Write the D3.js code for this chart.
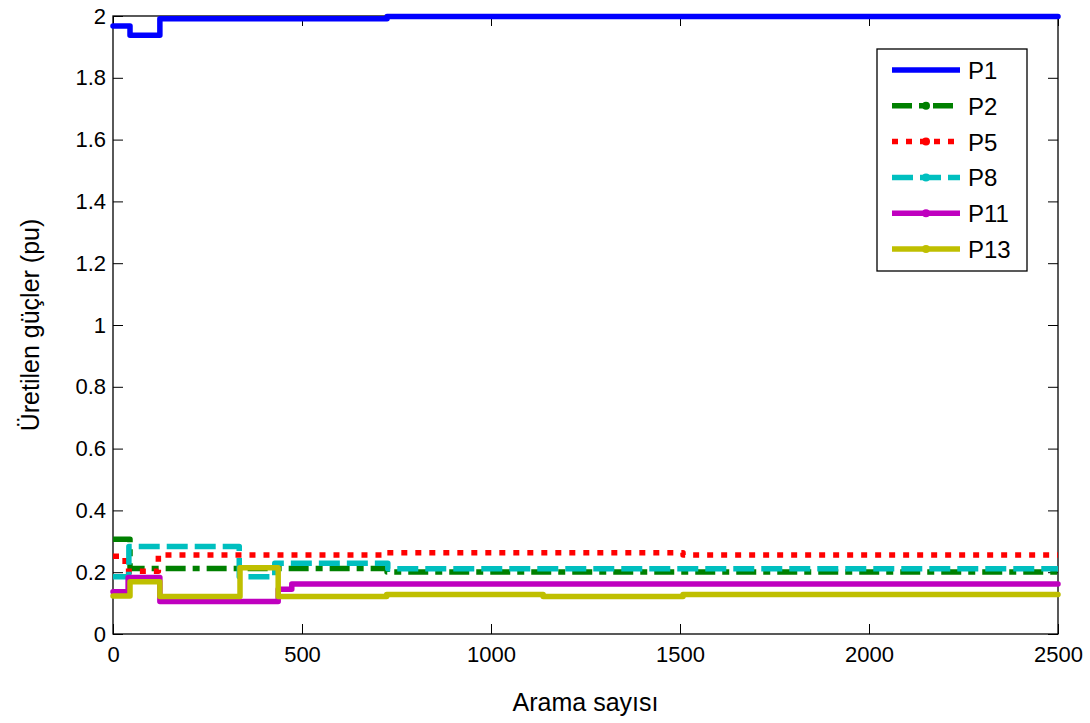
<!DOCTYPE html>
<html>
<head>
<meta charset="utf-8">
<script src="https://cdn.jsdelivr.net/npm/d3@7"></script>
<style>
  body { margin: 0; background: #fff; }
  svg { font-family: "Liberation Sans", Arial, sans-serif; }
</style>
</head>
<body>
<div id="chart"></div>
<script>
// step series: x = breakpoints, y = value from that point on
var p1x = [0, 45, 124, 725, 2500];
var p1y = [1.968, 1.938, 1.991, 1.998, 1.998];
var p2x = [0, 45, 725, 2500];
var p2y = [0.307, 0.212, 0.201, 0.201];
var p5x = [0, 32, 120, 720, 1508, 2500];
var p5y = [0.252, 0.203, 0.256, 0.263, 0.256, 0.256];
var p8x = [0, 42, 334, 428, 727, 2500];
var p8y = [0.185, 0.283, 0.185, 0.229, 0.211, 0.211];
var p11x = [0, 40, 124, 437, 473, 2500];
var p11y = [0.137, 0.183, 0.105, 0.145, 0.162, 0.162];
var p13x = [0, 45, 124, 336, 437, 724, 1138, 1508, 2500];
var p13y = [0.123, 0.169, 0.121, 0.214, 0.121, 0.128, 0.121, 0.128, 0.128];

var xTicks = [0, 500, 1000, 1500, 2000, 2500];
var yTicks = [0, 0.2, 0.4, 0.6, 0.8, 1, 1.2, 1.4, 1.6, 1.8, 2];

var series = [
    { name: "P1", xs: p1x, ys: p1y, color: "#0000ff", dash: null },
    { name: "P2", xs: p2x, ys: p2y, color: "#008000", dash: "20,7,7,7" },
    { name: "P5", xs: p5x, ys: p5y, color: "#ff0000", dash: "6,8" },
    { name: "P8", xs: p8x, ys: p8y, color: "#00bfbf", dash: "21,7" },
    { name: "P11", xs: p11x, ys: p11y, color: "#bf00bf", dash: null },
    { name: "P13", xs: p13x, ys: p13y, color: "#bfbf00", dash: null }
];

var width = 1090;
var height = 723;
var margin = { top: 16, right: 32, bottom: 89, left: 113 };
var plotWidth = width - margin.left - margin.right;
var plotHeight = height - margin.top - margin.bottom;

var svg = d3.select("#chart")
    .append("svg")
    .attr("width", width)
    .attr("height", height);

var plot = svg.append("g")
    .attr("transform", "translate(" + margin.left + "," + margin.top + ")");

var xScale = d3.scaleLinear().domain([0, 2500]).range([0, plotWidth]);
var yScale = d3.scaleLinear().domain([0, 2]).range([plotHeight, 0]);

// axes with inward ticks on all four sides
var fmt = function (d) { return d3.format("")(d); };
var tickSize = 10;

var xBottom = plot.append("g")
    .attr("transform", "translate(0," + plotHeight + ")")
    .call(d3.axisBottom(xScale).tickValues(xTicks).tickSizeInner(-tickSize).tickSizeOuter(0).tickPadding(12).tickFormat(fmt));
var xTop = plot.append("g")
    .call(d3.axisTop(xScale).tickValues(xTicks).tickSizeInner(-tickSize).tickSizeOuter(0).tickFormat(""));
var yLeft = plot.append("g")
    .call(d3.axisLeft(yScale).tickValues(yTicks).tickSizeInner(-tickSize).tickSizeOuter(0).tickPadding(7).tickFormat(fmt));
var yRight = plot.append("g")
    .attr("transform", "translate(" + plotWidth + ",0)")
    .call(d3.axisRight(yScale).tickValues(yTicks).tickSizeInner(-tickSize).tickSizeOuter(0).tickFormat(""));

[xBottom, xTop, yLeft, yRight].forEach(function (a) {
    a.select(".domain").remove();
    a.selectAll("line").attr("stroke", "#000").attr("stroke-width", 1);
    a.selectAll("text")
        .attr("fill", "#000")
        .style("font-size", "22px")
        .style("font-family", "'Liberation Sans', Arial, sans-serif");
});

plot.append("rect")
    .attr("width", plotWidth)
    .attr("height", plotHeight)
    .attr("fill", "none")
    .attr("stroke", "#000")
    .attr("stroke-width", 1.3);

var line = d3.line()
    .x(function (d) { return xScale(d[0]); })
    .y(function (d) { return yScale(d[1]); })
    .curve(d3.curveStepAfter);

plot.selectAll(".series")
    .data(series)
    .enter()
    .append("path")
    .classed("series", true)
    .attr("d", function (s) { return line(s.xs.map(function (x, i) { return [x, s.ys[i]]; })); })
    .attr("fill", "none")
    .attr("stroke", function (s) { return s.color; })
    .attr("stroke-width", 5.5)
    .attr("stroke-linejoin", "round")
    .attr("stroke-linecap", function (s) { return s.dash ? "butt" : "round"; })
    .attr("stroke-dasharray", function (s) { return s.dash; });

// axis titles
svg.append("text")
    .attr("x", margin.left + plotWidth / 2)
    .attr("y", 711)
    .attr("text-anchor", "middle")
    .style("font-size", "25px")
    .text("Arama sayısı");

svg.append("text")
    .attr("transform", "translate(39," + (margin.top + plotHeight / 2) + ") rotate(-90)")
    .attr("text-anchor", "middle")
    .style("font-size", "25px")
    .text("Üretilen güçler (pu)");

// legend
var legend = svg.append("g").attr("transform", "translate(877,49)");
legend.append("rect")
    .attr("width", 150)
    .attr("height", 222)
    .attr("fill", "#fff")
    .attr("stroke", "#000")
    .attr("stroke-width", 1.3);

var rows = legend.selectAll(".leg")
    .data(series)
    .enter()
    .append("g")
    .classed("leg", true)
    .attr("transform", function (d, i) { return "translate(0," + (21 + i * 35.8) + ")"; });

rows.append("line")
    .attr("x1", 15)
    .attr("x2", 83)
    .attr("stroke", function (d) { return d.color; })
    .attr("stroke-width", 5.5)
    .attr("stroke-dasharray", function (d) { return d.dash; });
rows.filter(function (d) { return d.name !== "P1"; })
    .append("circle")
    .attr("cx", 49)
    .attr("r", 4)
    .attr("fill", function (d) { return d.color; });
rows.append("text")
    .attr("x", 91)
    .attr("y", 9)
    .style("font-size", "24px")
    .text(function (d) { return d.name; });
</script>
</body>
</html>
